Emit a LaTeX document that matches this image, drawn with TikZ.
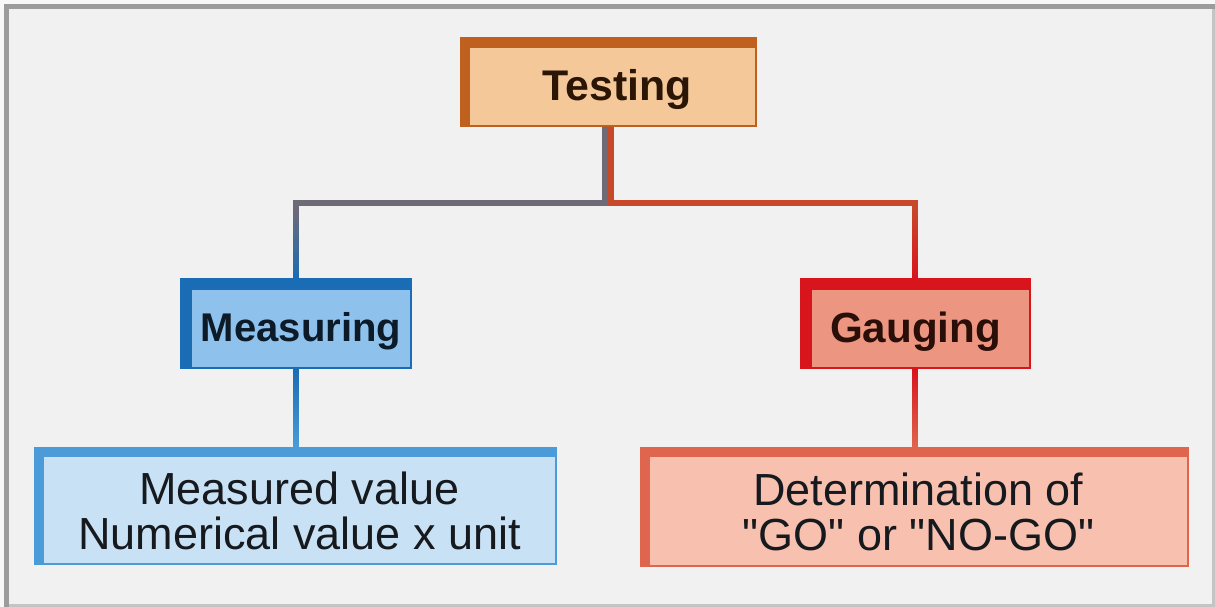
\documentclass[tikz,border=0pt]{standalone}
\usepackage{fontspec}
\setmainfont{Liberation Sans}[Ligatures=TeXOff]
\usetikzlibrary{calc}
\definecolor{bgc}{HTML}{F1F1F1}
\definecolor{outc}{HTML}{F8F8F8}
\definecolor{framec}{HTML}{9C9C9C}
\definecolor{framel}{HTML}{C4C4C4}
\definecolor{testB}{HTML}{C0601E}
\definecolor{testF}{HTML}{F5C899}
\definecolor{measB}{HTML}{1A6CB5}
\definecolor{measF}{HTML}{8EC2EC}
\definecolor{gaugB}{HTML}{D8151D}
\definecolor{gaugF}{HTML}{EC9682}
\definecolor{mvB}{HTML}{4A9BD8}
\definecolor{mvF}{HTML}{C9E1F5}
\definecolor{detB}{HTML}{E0654F}
\definecolor{detF}{HTML}{F7C0AF}
\definecolor{lineG}{HTML}{6E6A76}
\definecolor{lineO}{HTML}{C8482A}
\definecolor{txtT}{HTML}{2B1606}
\definecolor{txtM}{HTML}{0D1A28}
\definecolor{txtG}{HTML}{2A0E08}
\definecolor{txtB}{HTML}{161A1E}
\def\u{0.05cm}
\tikzset{
  boxbase/.style={draw, line width=2.2pt, inner sep=0pt, align=center},
  labelbox/.style={boxbase, font=\fontsize{#1}{#1}\selectfont\bfseries},
  textbox/.style={boxbase, font=\fontsize{64}{64}\selectfont},
  conn/.style={line width=8pt, line join=miter, line cap=butt},
}
\begin{document}
\begin{tikzpicture}[x=0.05cm,y=-0.05cm]
\useasboundingbox (0,0) rectangle (1215,607);
\fill[outc] (0,0) rectangle (1215,607);
\fill[bgc] (4,4) rectangle (1214,606);
\fill[framel] (1212,4) rectangle (1214.5,606);
\fill[framel] (4,604) rectangle (1214.5,606.5);
\fill[framec] (4,4) rectangle (1214.5,9);
\fill[framec] (4,4) rectangle (9,606.5);

% nodes (inner areas)
\node[labelbox=61, text height=52pt, text depth=13pt, color=testB, fill=testF, text=txtT, minimum width=287*\u, minimum height=79*\u] (t) at (612.5,86.5) {\hspace*{0.5cm}Testing};
\node[labelbox=57, text height=49.5pt, text depth=12pt, color=measB, fill=measF, text=txtM, minimum width=220*\u, minimum height=79*\u] (m) at (301,328.5) {Measuring};
\node[labelbox=60, text height=51.5pt, text depth=12.6pt, color=gaugB, fill=gaugF, text=txtG, minimum width=219*\u, minimum height=79*\u] (g) at (920.5,328.5) {Gauging\hspace*{0.5cm}};
\node[textbox, color=mvB, fill=mvF, text=txtB, minimum width=513*\u, minimum height=108*\u] (mv) at (299.5,510) {\rule{0pt}{0.78em}Measured value\\Numerical value x unit};
\node[textbox, color=detB, fill=detF, text=txtB, minimum width=539*\u, minimum height=110*\u] (d) at (918.5,511) {\rule{0pt}{0.78em}Determination of\\"GO" or "NO-GO"};

% thick top/left bars
\fill[testB] ($(t.north west)+(-8,-9)$) rectangle (t.north east);
\fill[testB] ($(t.north west)+(-8,-9)$) rectangle (t.south west);
\fill[measB] ($(m.north west)+(-10,-10)$) rectangle (m.north east);
\fill[measB] ($(m.north west)+(-10,-10)$) rectangle (m.south west);
\fill[gaugB] ($(g.north west)+(-10,-10)$) rectangle (g.north east);
\fill[gaugB] ($(g.north west)+(-10,-10)$) rectangle (g.south west);
\fill[mvB] ($(mv.north west)+(-8,-8)$) rectangle (mv.north east);
\fill[mvB] ($(mv.north west)+(-8,-8)$) rectangle (mv.south west);
\fill[detB] ($(d.north west)+(-8,-8)$) rectangle (d.north east);
\fill[detB] ($(d.north west)+(-8,-8)$) rectangle (d.south west);

% connector end points (top of the bars)
\coordinate (mt) at ($(m.north)+(-5,-10)$);
\coordinate (gt) at ($(g.north)+(-5.5,-10)$);
\coordinate (mvt) at ($(mv.north)+(-3.5,-8)$);
\coordinate (dt) at ($(d.north)+(-3.5,-8)$);

% connectors
\draw[conn, lineG] ([xshift=-7.5*\u]t.south) -- ++(0,76) -| (mt);
\draw[conn, lineO] ([xshift=-1.5*\u]t.south) -- ++(0,76) -| (gt);
\draw[conn, measB] (mt |- m.south) -- (mt |- mvt);
\draw[conn, gaugB] (gt |- g.south) -- (gt |- dt);

% colour gradients along the vertical runs
\shade[top color=lineG, bottom color=measB] ($(mt)+(-2.82,-70)$) rectangle ($(mt)+(2.82,0)$);
\shade[top color=lineO, bottom color=gaugB] ($(gt)+(-2.82,-70)$) rectangle ($(gt)+(2.82,0)$);
\shade[top color=measB, bottom color=mvB] ($(mt |- m.south)+(-2.82,1)$) rectangle ($(mt |- mvt)+(2.82,0)$);
\shade[top color=gaugB, bottom color=detB] ($(gt |- g.south)+(-2.82,1)$) rectangle ($(gt |- dt)+(2.82,0)$);
\end{tikzpicture}
\end{document}
